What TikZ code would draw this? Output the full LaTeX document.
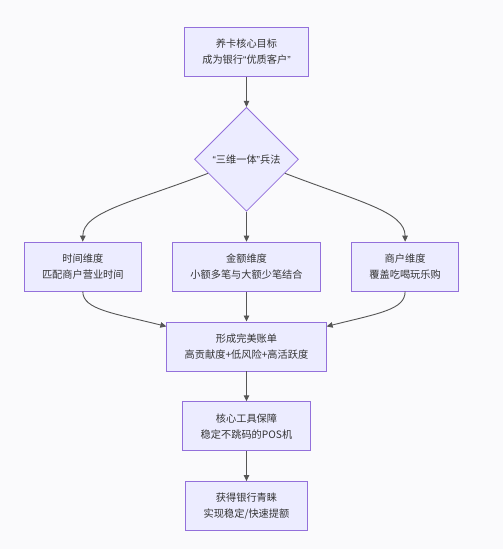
\documentclass[tikz,border=0pt]{standalone}
\usepackage{fontspec}
\setmainfont{Noto Sans CJK SC}
\newfontfamily\latfont{Liberation Sans}
\usetikzlibrary{arrows.meta,positioning,shapes.geometric}
\definecolor{kuangtian}{HTML}{ECECFF}
\definecolor{kuangbian}{HTML}{9370DB}
\definecolor{xianse}{HTML}{555555}
\definecolor{zise}{HTML}{333333}
\definecolor{dise}{HTML}{FAFAFC}

\begin{document}
\begin{tikzpicture}[
    font=\fontsize{10.2pt}{16pt}\selectfont,
    kuang/.style={
      draw=kuangbian, fill=kuangtian, line width=0.8pt, align=center,
      text=zise, inner xsep=18pt, minimum height=49pt
    },
    lingxing/.style={
      diamond, draw=kuangbian, fill=kuangtian, line width=0.8pt, align=center,
      text=zise, minimum width=104pt, minimum height=104pt, inner sep=0pt
    },
    jian/.style={-{Triangle[length=6pt,width=5.5pt]}, draw=xianse, line width=0.9pt}
  ]
    \fill[dise] (0,0) rectangle (503pt,-549pt);
    \useasboundingbox (0,0) rectangle (503pt,-549pt);
    \node[kuang] (mubiao) at (246.5pt,-52pt) {养卡核心目标\\成为银行{\latfont “}优质客户{\latfont ”}};
    \node[lingxing, below=30pt of mubiao] (fangfa) {{\latfont “}三维一体{\latfont ”}兵法};
    \node[kuang, below=30pt of fangfa] (jine) {金额维度\\小额多笔与大额少笔结合};
    \node[kuang, left=30pt of jine] (shijian) {时间维度\\匹配商户营业时间};
    \node[kuang, right=30pt of jine] (shanghu) {商户维度\\覆盖吃喝玩乐购};
    \node[kuang, below=30pt of jine] (zhangdan) {形成完美账单\\高贡献度+低风险+高活跃度};
    \node[kuang, below=30pt of zhangdan] (gongju) {核心工具保障\\稳定不跳码的POS机};
    \node[kuang, below=30pt of gongju] (qingmei) {获得银行青睐\\实现稳定/快速提额};
    \draw[jian] (mubiao) -- (fangfa);
    \draw[jian] (fangfa.200) .. controls +(201:80pt) and +(0,30pt) .. (shijian.north);
    \draw[jian] (fangfa) -- (jine);
    \draw[jian] (fangfa.-20) .. controls +(-21:80pt) and +(0,30pt) .. (shanghu.north);
    \draw[jian] (shijian.south) .. controls +(0,-18pt) and +(166:55pt) .. (zhangdan.166);
    \draw[jian] (jine) -- (zhangdan);
    \draw[jian] (shanghu.south) .. controls +(0,-18pt) and +(14:55pt) .. (zhangdan.14);
    \draw[jian] (zhangdan) -- (gongju);
    \draw[jian] (gongju) -- (qingmei);
  \end{tikzpicture}
\end{document}
